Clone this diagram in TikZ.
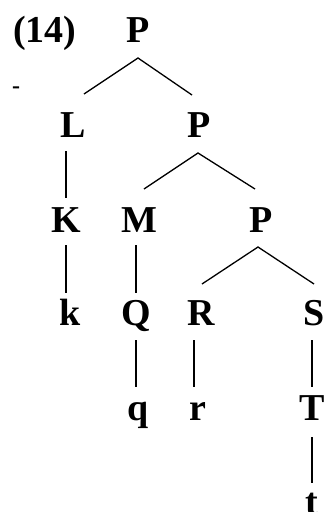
\documentclass[tikz,border=0pt]{standalone}
\usepackage{fontspec}
\setmainfont{Liberation Serif}
\usetikzlibrary{calc}
\begin{document}
\begin{tikzpicture}[x=1pt,y=1pt,
  lab/.style={font=\fontsize{38}{40}\selectfont\bfseries, inner sep=0pt, anchor=base},
  edge/.style={line width=1.3pt}]
\useasboundingbox (0,0) rectangle (328,-512);
\clip (0,0) rectangle (328,-512);
% labels
\node[lab] (num) at (45,-42) {(14)};
\node[font=\fontsize{24}{26}\selectfont\bfseries, inner sep=0pt] (dash) at (16,-90) {-};
\node[lab] (P1) at (138,-42) {P};
\node[lab] (L) at (73,-137) {L};
\node[lab] (P2) at (199,-137) {P};
\node[lab] (K) at (66,-232) {K};
\node[lab] (M) at (139,-232) {M};
\node[lab] (P3) at (261,-232) {P};
\node[lab] (k) at (70,-325) {k};
\node[lab] (Q) at (136,-325) {Q};
\node[lab] (R) at (201,-325) {R};
\node[lab] (S) at (314,-325) {S};
\node[lab] (q) at (138,-420) {q};
\node[lab] (r) at (198,-420) {r};
\node[lab] (T) at (312,-420) {T};
\node[lab] (t) at (312,-514) {t};
% connectors
\draw[edge] ($(L.base)+(11,43)$) -- ($(P1.base)+(0,-16)$) -- ($(P2.base)+(-7,42)$);
\draw[edge] ($(L.base)+(-7,-14)$) -- ($(K.base)+(0,34)$);
\draw[edge] ($(M.base)+(5,43)$) -- ($(P2.base)+(-1,-16)$) -- ($(P3.base)+(-6,43)$);
\draw[edge] ($(K.base)+(0,-13)$) -- ($(k.base)+(-4,32)$);
\draw[edge] ($(M.base)+(-3,-13)$) -- ($(Q.base)+(0,32)$);
\draw[edge] ($(R.base)+(1,41)$) -- ($(P3.base)+(-3,-15)$) -- ($(S.base)+(0,41)$);
\draw[edge] ($(Q.base)+(0,-15)$) -- ($(q.base)+(-2,33)$);
\draw[edge] ($(R.base)+(-7,-15)$) -- ($(r.base)+(-4,33)$);
\draw[edge] ($(S.base)+(-2,-15)$) -- ($(T.base)+(0,33)$);
\draw[edge] ($(T.base)+(0,-17)$) -- ($(t.base)+(0,31)$);
\end{tikzpicture}
\end{document}
